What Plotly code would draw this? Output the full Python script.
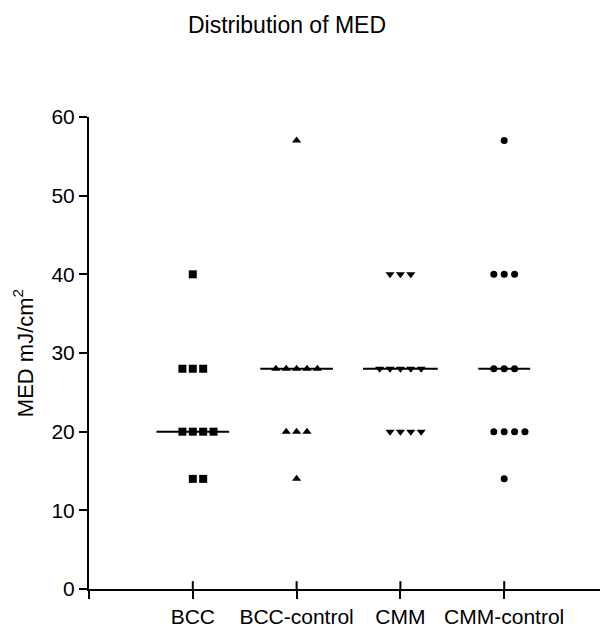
import plotly.graph_objects as go

categories = ["BCC", "BCC-control", "CMM", "CMM-control"]

bcc = [40, 28, 28, 28, 20, 20, 20, 20, 14, 14]
bcc_control = [57, 28, 28, 28, 28, 28, 20, 20, 20, 14]
cmm = [40, 40, 40, 28, 28, 28, 28, 28, 20, 20, 20, 20]
cmm_control = [57, 40, 40, 40, 28, 28, 28, 20, 20, 20, 20, 14]

medians = [20, 28, 28, 28]
y_ticks = [0, 10, 20, 30, 40, 50, 60]

groups = [bcc, bcc_control, cmm, cmm_control]
symbols = ["square", "triangle-up", "triangle-down", "circle"]
msizes = [8, 8, 8, 7]
half_widths = [0.35, 0.35, 0.36, 0.25]
step = 0.1

fig = go.Figure()

for gi, vals in enumerate(groups):
    xs, ys = [], []
    seen = {}
    for v in vals:
        seen[v] = seen.get(v, 0) + 1
    for v, n in seen.items():
        start = -((n - 1) // 2)
        for i in range(n):
            xs.append(gi + (start + i) * step)
            ys.append(v)
    fig.add_trace(go.Scatter(
        x=xs, y=ys, mode="markers",
        marker=dict(symbol=symbols[gi], size=msizes[gi], color="black", line=dict(width=0)),
        showlegend=False, hoverinfo="y", cliponaxis=False,
    ))
    fig.add_trace(go.Scatter(
        x=[gi - half_widths[gi], gi + half_widths[gi]], y=[medians[gi], medians[gi]],
        mode="lines", line=dict(color="black", width=2),
        showlegend=False, hoverinfo="skip",
    ))

# inner half of the x ticks (ticks cross the axis line)
tx, ty = [], []
for gi in range(len(categories)):
    tx += [gi, gi, None]
    ty += [0, 1.0, None]
fig.add_trace(go.Scatter(x=tx, y=ty, mode="lines", line=dict(color="black", width=2),
                         showlegend=False, hoverinfo="skip"))

font_family = "Liberation Sans, Arial, sans-serif"
W, H = 600, 620

fig.update_layout(
    width=W, height=H,
    paper_bgcolor="white", plot_bgcolor="white",
    margin=dict(l=81, r=0, t=109, b=33),
    font=dict(family=font_family, size=20, color="black"),
    title=dict(text="Distribution of MED", x=279 / W, xanchor="center",
               y=1 - 17 / H, yanchor="middle",
               font=dict(size=23, family=font_family, color="black")),
    xaxis=dict(
        range=[-1, 4], tickvals=[-1] + list(range(len(categories))), ticktext=[""] + categories,
        showline=True, linecolor="black", linewidth=2,
        ticks="outside", ticklen=8, tickwidth=2, tickcolor="black",
        showgrid=False, zeroline=False, tickfont=dict(size=21),
    ),
    yaxis=dict(
        range=[0, 60], tickvals=y_ticks,
        showline=True, linecolor="black", linewidth=2,
        ticks="outside", ticklen=8, tickwidth=2, tickcolor="black",
        showgrid=False, zeroline=False, tickfont=dict(size=21),
        title=dict(text="MED mJ/cm<sup>2</sup>", font=dict(size=22), standoff=12),
    ),
)

fig.write_html("out.html")
